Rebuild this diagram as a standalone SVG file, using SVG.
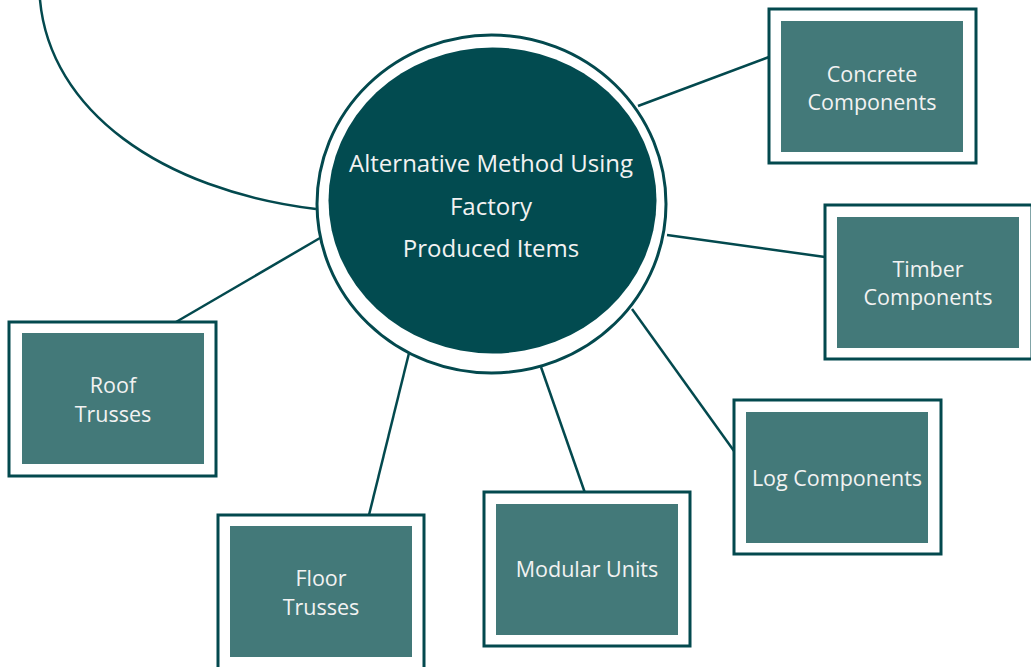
<svg xmlns="http://www.w3.org/2000/svg" width="1031" height="667" viewBox="0 0 1031 667">
<style>
.edge{fill:none;stroke:#03494e;stroke-width:2.5}
.outer{fill:#ffffff;stroke:#03494e;stroke-width:3}
.inner{fill:#437979}
.lbl{font-family:"Open Sans","Noto Sans",sans-serif;font-size:21.5px;fill:#f2f2f2;text-anchor:middle}
.clbl{font-family:"Open Sans","Noto Sans",sans-serif;font-size:24px;fill:#f2f2f2;text-anchor:middle}
</style>
<rect width="1031" height="667" fill="#ffffff"/>
<g id="connectors">
<path class="edge" d="M316,209 C160,190 50,110 40,0"/>
<line class="edge" x1="638" y1="106" x2="769" y2="57"/>
<line class="edge" x1="667" y1="235" x2="825" y2="257"/>
<line class="edge" x1="632" y1="309" x2="734" y2="451"/>
<line class="edge" x1="541" y1="367" x2="585" y2="493"/>
<line class="edge" x1="409" y1="353" x2="369" y2="515"/>
<line class="edge" x1="320" y1="238" x2="176" y2="322"/>
</g>
<g id="center">
<ellipse cx="491.5" cy="204" rx="174.5" ry="169" fill="#ffffff" stroke="#03494e" stroke-width="3"/>
<ellipse cx="492.5" cy="200.5" rx="164" ry="153" fill="#024b50"/>
<text class="clbl" x="491" y="172">Alternative Method Using</text>
<text class="clbl" x="491" y="215">Factory</text>
<text class="clbl" x="491" y="257">Produced Items</text>
</g>
<g id="concrete">
<rect class="outer" x="769" y="9" width="207" height="154"/>
<rect class="inner" x="781" y="21" width="182" height="131"/>
<text class="lbl" x="872" y="82">Concrete</text>
<text class="lbl" x="872" y="110">Components</text>
</g>
<g id="timber">
<rect class="outer" x="825" y="205" width="207" height="154"/>
<rect class="inner" x="837" y="217" width="182" height="131"/>
<text class="lbl" x="928" y="277">Timber</text>
<text class="lbl" x="928" y="305">Components</text>
</g>
<g id="log">
<rect class="outer" x="734" y="400" width="207" height="154"/>
<rect class="inner" x="746" y="412" width="182" height="131"/>
<text class="lbl" x="837" y="486">Log Components</text>
</g>
<g id="modular">
<rect class="outer" x="484" y="492" width="206" height="154"/>
<rect class="inner" x="496" y="504" width="182" height="131"/>
<text class="lbl" x="587" y="577">Modular Units</text>
</g>
<g id="floor">
<rect class="outer" x="218" y="515" width="206" height="154"/>
<rect class="inner" x="230" y="526" width="182" height="131"/>
<text class="lbl" x="321" y="586">Floor</text>
<text class="lbl" x="321" y="615">Trusses</text>
</g>
<g id="roof">
<rect class="outer" x="9" y="322" width="207" height="154"/>
<rect class="inner" x="22" y="333" width="182" height="131"/>
<text class="lbl" x="113" y="393">Roof</text>
<text class="lbl" x="113" y="422">Trusses</text>
</g>
</svg>
